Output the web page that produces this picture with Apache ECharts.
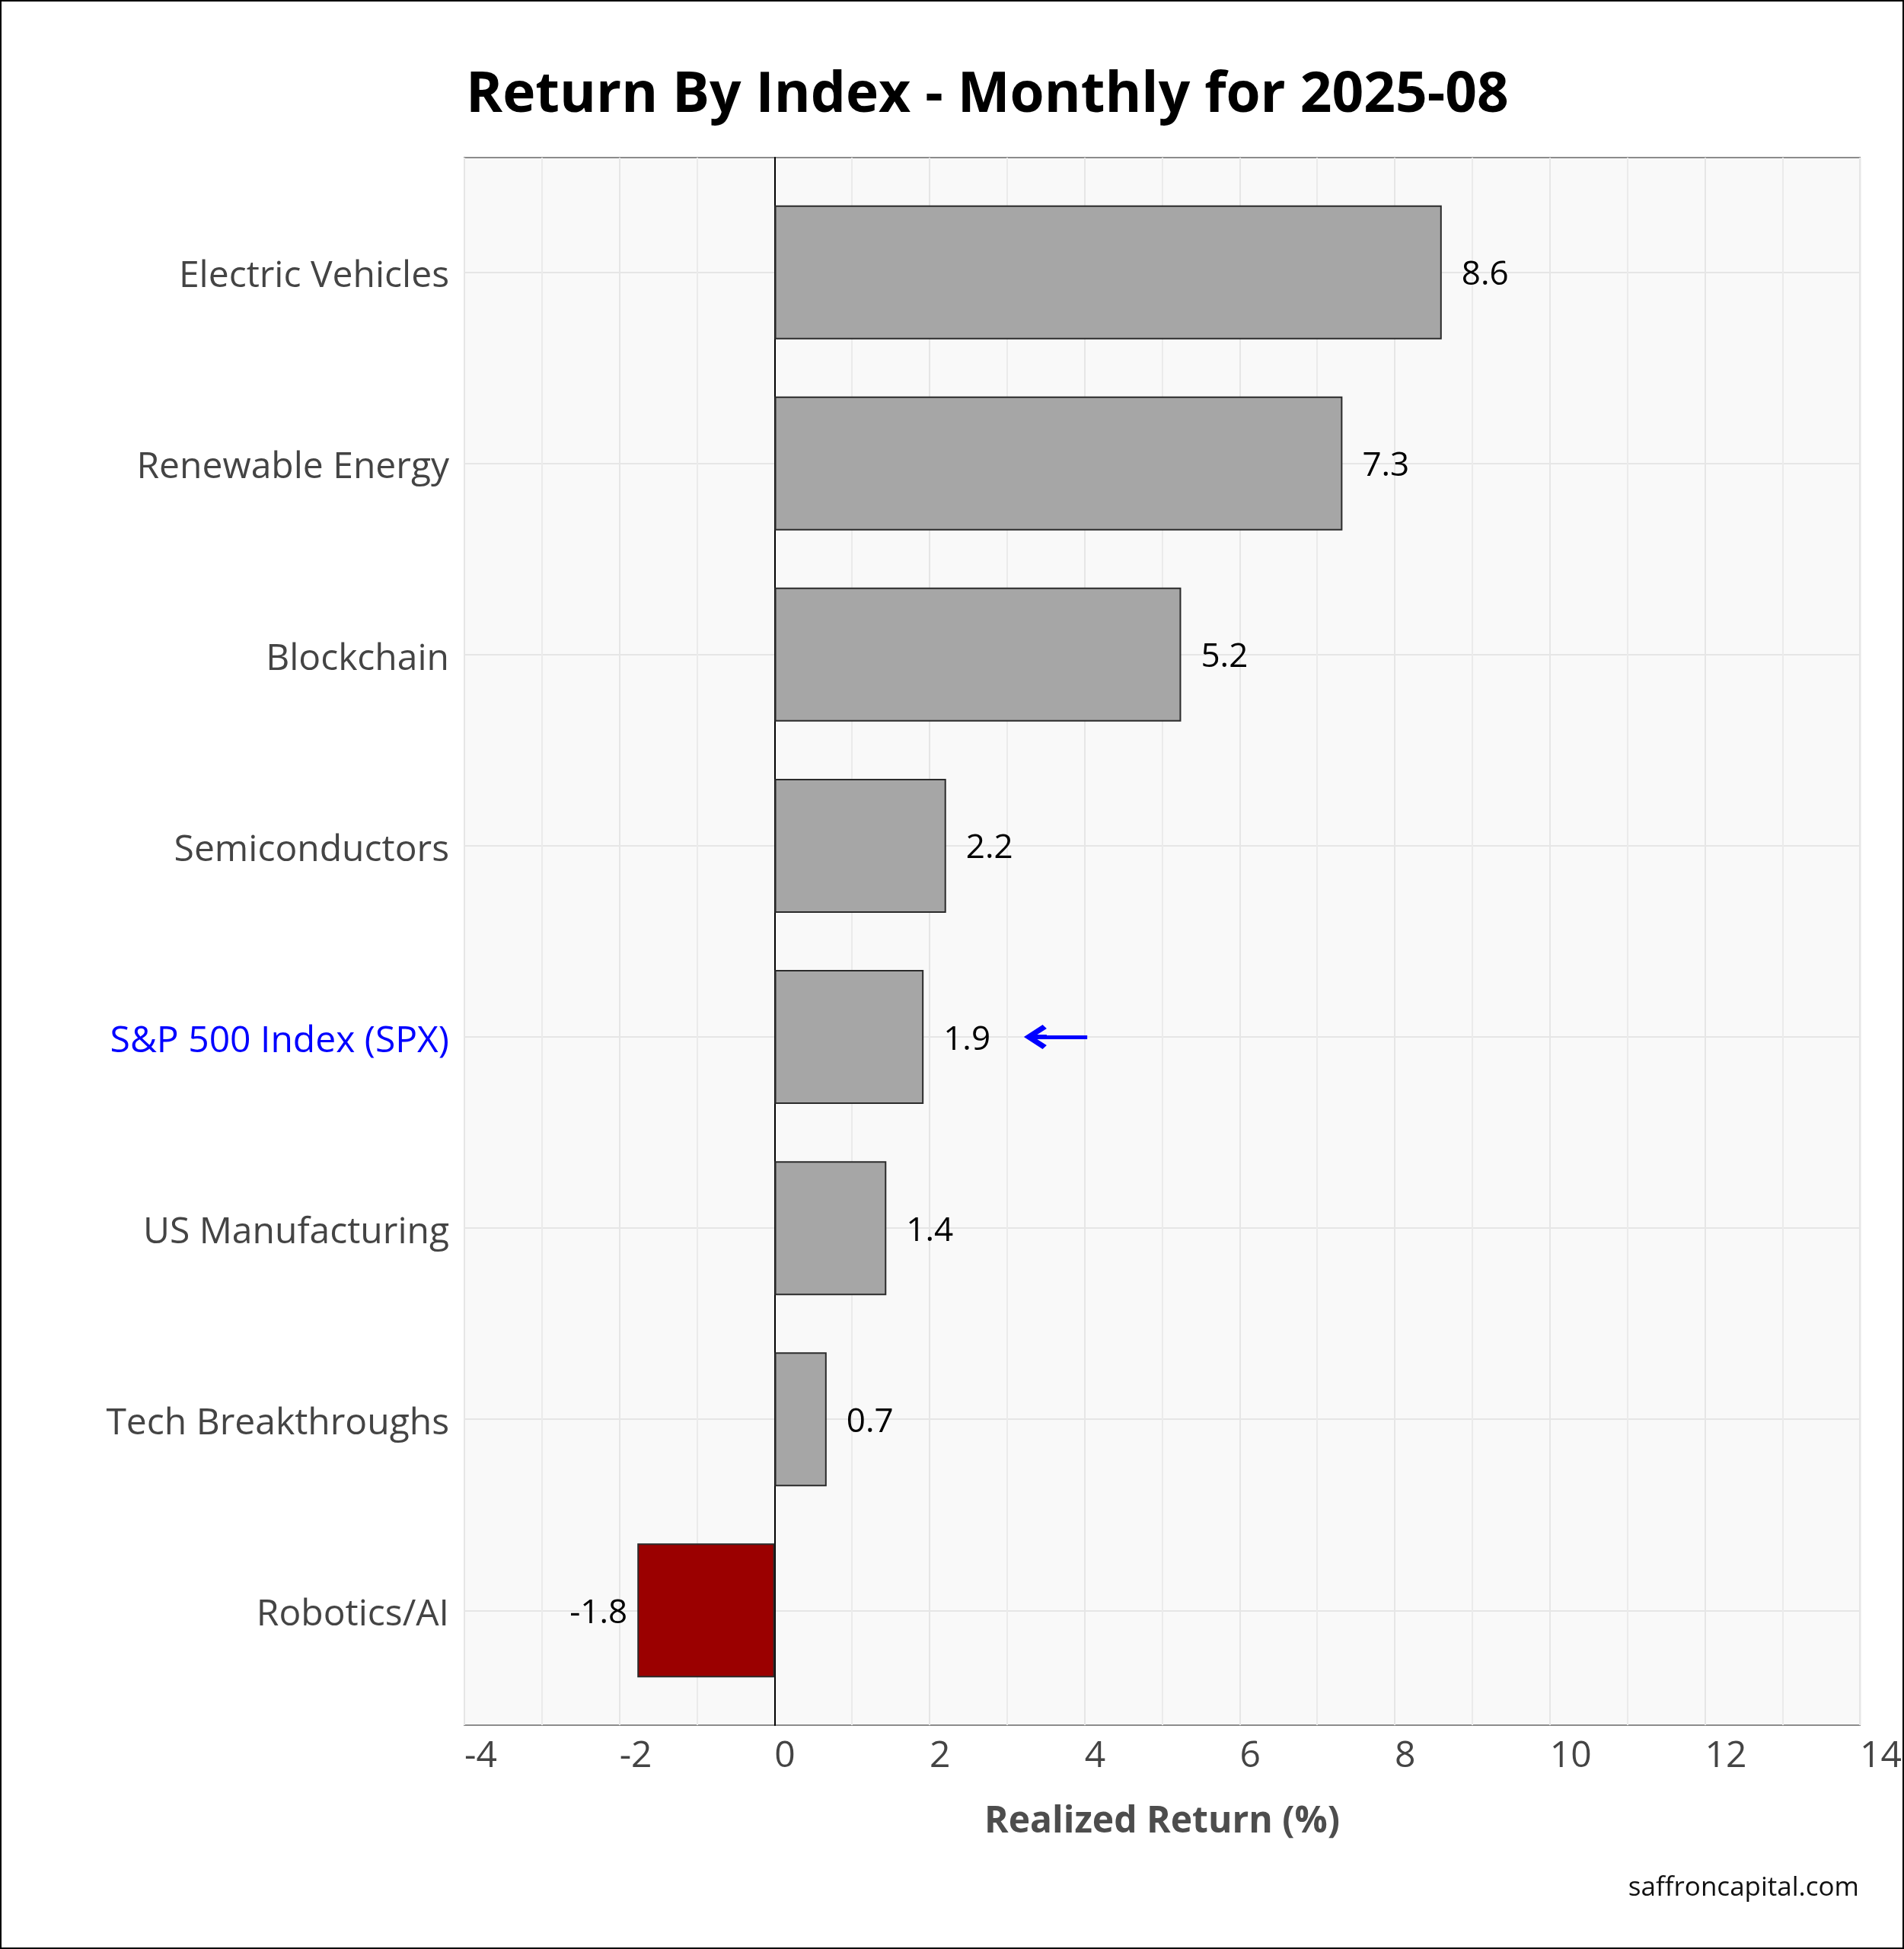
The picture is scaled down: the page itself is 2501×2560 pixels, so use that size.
<!DOCTYPE html>
<html>
<head>
<meta charset="utf-8">
<script src="https://cdn.jsdelivr.net/npm/echarts@6/dist/echarts.min.js"></script>
<style>
html,body{margin:0;padding:0;background:#fff;overflow:hidden;}
#chart{width:2501px;height:2560px;}
</style>
</head>
<body>
<div id="chart"></div>
<script>
// ---- data ----
const categories = ['Electric Vehicles','Renewable Energy','Blockchain','Semiconductors','S&P 500 Index (SPX)','US Manufacturing','Tech Breakthroughs','Robotics/AI'];
const returns = [8.6, 7.32, 5.24, 2.21, 1.92, 1.44, 0.67, -1.77];
const xMin = -4, xMax = 14, xInterval = 2;
const highlightCategory = 'S&P 500 Index (SPX)';
const arrowStart = 4.03, arrowEnd = 3.36;
const titleText = 'Return By Index - Monthly for 2025-08';
const xAxisTitle = 'Realized Return (%)';
const sourceText = 'saffroncapital.com';

// ---- layout ----
const FONT = '"Open Sans", "Noto Sans", sans-serif';
const W = 2501, H = 2560;
const plotLeft = 610, plotRight = 2444, plotTop = 207, plotBottom = 2266;
const plotW = plotRight - plotLeft, plotH = plotBottom - plotTop;
const band = plotH / (categories.length + 0.2);
const innerTop = plotTop + 0.6 * band;
const innerH = (categories.length - 1) * band;

const chart = echarts.init(document.getElementById('chart'), null, {renderer: 'canvas', width: W, height: H});

const chevron = 'path://M15,0 L31,23 L26,28 L15,12 L4,28 L-1,23 Z M12,6 L18,6 L18,28 L12,28 Z';

const option = {
  animation: false,
  backgroundColor: '#ffffff',
  textStyle: {fontFamily: FONT},
  title: [
    {
      text: titleText, left: 612, top: 86, padding: 0,
      textStyle: {fontFamily: FONT, fontSize: 73, fontWeight: 'bold', color: '#000', lineHeight: 80}
    },
    {
      text: sourceText, right: 59, top: 2461, padding: 0,
      textStyle: {fontFamily: FONT, fontSize: 35, fontWeight: 'normal', color: '#111', lineHeight: 38}
    }
  ],
  graphic: [{
    type: 'rect', silent: true, z: 100,
    shape: {x: 1, y: 1, width: W - 2, height: H - 2},
    style: {fill: 'none', stroke: '#000', lineWidth: 2}
  }],
  grid: [
    {left: plotLeft, top: plotTop, width: plotW, height: plotH, show: true,
     backgroundColor: '#f9f9f9', borderColor: '#8c8c8c', borderWidth: 2, containLabel: false},
    {left: plotLeft, top: innerTop, width: plotW, height: innerH, containLabel: false}
  ],
  xAxis: [
    {
      gridIndex: 0, type: 'value', min: xMin, max: xMax, interval: xInterval,
      axisLine: {show: false}, axisTick: {show: false},
      axisLabel: {show: true, fontFamily: FONT, fontSize: 48, color: '#444', margin: 17, align: 'left'},
      splitLine: {show: true, lineStyle: {color: '#e6e6e6', width: 2}},
      minorTick: {show: false, splitNumber: 2},
      minorSplitLine: {show: true, lineStyle: {color: '#ebebeb', width: 2}},
      name: xAxisTitle, nameLocation: 'middle', nameGap: 103,
      nameTextStyle: {fontFamily: FONT, fontSize: 48, fontWeight: 'bold', color: '#4d4d4d'}
    },
    {
      gridIndex: 1, type: 'value', min: xMin, max: xMax, interval: xInterval, show: false
    }
  ],
  yAxis: [
    {
      gridIndex: 0, type: 'value', min: 0, max: 1,
      axisLine: {show: true, onZero: true, lineStyle: {color: '#000', width: 2}},
      axisTick: {show: false}, axisLabel: {show: false}, splitLine: {show: false}
    },
    {
      gridIndex: 1, type: 'category', inverse: true, boundaryGap: false,
      data: categories,
      axisLine: {show: false}, axisTick: {show: false},
      axisLabel: {
        show: true, interval: 0, margin: 20,
        formatter: v => (v === highlightCategory ? '{hl|' : '{n|') + v + '}',
        rich: {
          n: {fontFamily: FONT, fontSize: 48, color: '#444', lineHeight: 60, verticalAlign: 'bottom'},
          hl: {fontFamily: FONT, fontSize: 48, color: '#0000ff', lineHeight: 60, verticalAlign: 'bottom'}
        }
      },
      splitLine: {show: true, interval: 0, lineStyle: {color: '#e6e6e6', width: 2}}
    }
  ],
  series: [
    {
      type: 'bar', xAxisIndex: 1, yAxisIndex: 1, barWidth: 176, clip: false,
      data: returns.map(v => ({
        value: v,
        itemStyle: {color: v < 0 ? '#9b0000' : '#a6a6a6', borderColor: '#2b2b2b', borderWidth: 2},
        label: {position: v < 0 ? 'left' : 'right', distance: v < 0 ? 13 : 26}
      })),
      label: {
        show: true,
        formatter: p => '{v|' + Number(p.value).toFixed(1) + '}',
        rich: {v: {fontFamily: FONT, fontSize: 44, color: '#000', lineHeight: 52, verticalAlign: 'bottom'}}
      },
      markLine: {
        silent: true, animation: false,
        symbol: ['none', chevron], symbolSize: [32, 30],
        label: {show: false},
        lineStyle: {color: '#0000ff', width: 5, type: 'solid'},
        emphasis: {disabled: true},
        data: [[{coord: [arrowStart, highlightCategory]}, {coord: [arrowEnd, highlightCategory]}]]
      }
    }
  ]
};
chart.setOption(option);
</script>
</body>
</html>
